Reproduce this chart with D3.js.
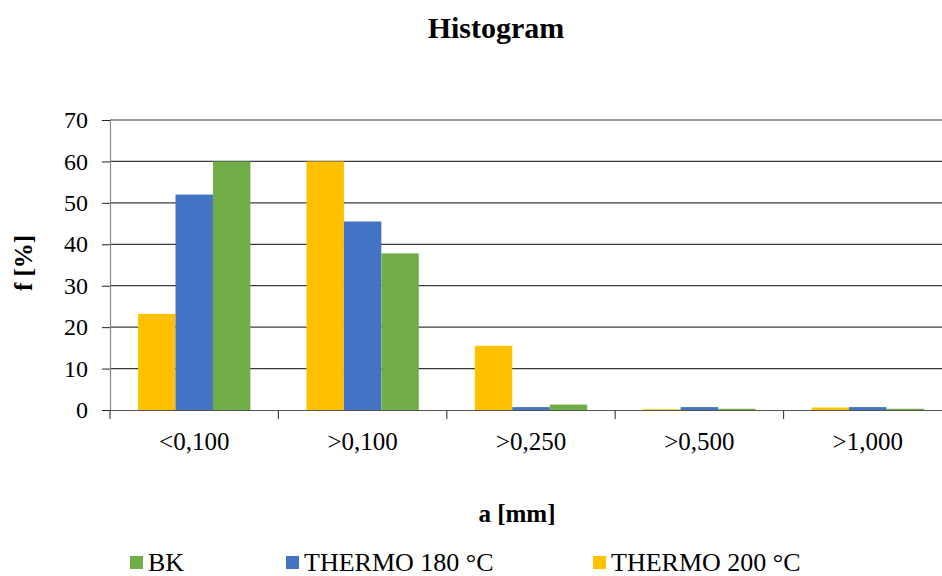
<!DOCTYPE html>
<html>
<head>
<meta charset="utf-8">
<script src="https://cdn.jsdelivr.net/npm/d3@7"></script>
<style>
  html, body { margin: 0; padding: 0; background: #fff; overflow: hidden; }
  svg text { font-family: "Liberation Serif", "Times New Roman", Tinos, "DejaVu Serif", serif !important; }
</style>
</head>
<body>
<svg id="chart" width="942" height="576"></svg>
<script>
// Size classes of the measured particles
const categories = ["<0,100", ">0,100", ">0,250", ">0,500", ">1,000"];

// Relative frequency f [%] per class
const thermo200 = [23.2, 60.0, 15.5, 0.2, 0.6];
const thermo180 = [52.0, 45.5, 0.7, 0.7, 0.7];
const bk        = [60.0, 37.8, 1.3, 0.3, 0.3];

const yTicks = [0, 10, 20, 30, 40, 50, 60, 70];

// Bars are drawn left-to-right in this order; legend lists them reversed
const series = [
  { name: "THERMO 200 °C", values: thermo200, color: "#FFC000" },
  { name: "THERMO 180 °C", values: thermo180, color: "#4472C4" },
  { name: "BK",            values: bk,        color: "#70AD47" }
];
const legendOrder = ["BK", "THERMO 180 °C", "THERMO 200 °C"];

const svg = d3.select("#chart");

const plot = { left: 110, right: 952, top: 120, bottom: 410 };

const x = d3.scaleBand()
  .domain(categories)
  .range([plot.left, plot.right])
  .paddingInner(0.333)
  .paddingOuter(0.1667);

const x1 = d3.scaleBand()
  .domain(series.map(s => s.name))
  .range([0, x.bandwidth()]);

const y = d3.scaleLinear().domain([0, 70]).range([plot.bottom, plot.top]);

// Horizontal grid lines
svg.append("g")
  .selectAll("line")
  .data(yTicks.filter(t => t > 0))
  .join("line")
  .attr("x1", plot.left).attr("x2", plot.right)
  .attr("y1", d => y(d)).attr("y2", d => y(d))
  .attr("stroke", "#3a3a3a").attr("stroke-width", 1.2);

// Bars
const groups = svg.append("g")
  .selectAll("g")
  .data(series)
  .join("g")
  .attr("fill", d => d.color);

groups.selectAll("rect")
  .data(s => s.values.map((v, i) => ({ name: s.name, cat: categories[i], v })))
  .join("rect")
  .attr("x", d => x(d.cat) + x1(d.name))
  .attr("width", x1.bandwidth())
  .attr("y", d => y(d.v))
  .attr("height", d => y(0) - y(d.v));

// Y axis
const yAxis = svg.append("g")
  .attr("transform", `translate(${plot.left},0)`)
  .call(d3.axisLeft(y).tickValues(yTicks).tickSize(8).tickPadding(14).tickFormat(d3.format("d")));
yAxis.select(".domain").attr("stroke", "#8a8a8a").attr("stroke-width", 1.2);
yAxis.selectAll(".tick line").attr("stroke", "#222");
yAxis.selectAll(".tick text")
  .attr("font-size", 24).attr("fill", "#000");

// X axis with ticks at category boundaries
const xAxis = svg.append("g")
  .attr("transform", `translate(0,${plot.bottom})`)
  .call(d3.axisBottom(x).tickSize(0).tickPadding(22));
xAxis.select(".domain").attr("stroke", "#555").attr("stroke-width", 1.2);
xAxis.selectAll(".tick text")
  .attr("font-size", 25).attr("fill", "#000");
xAxis.append("g")
  .selectAll("line")
  .data(d3.range(categories.length + 1))
  .join("line")
  .attr("x1", i => plot.left + i * x.step())
  .attr("x2", i => plot.left + i * x.step())
  .attr("y1", 0).attr("y2", 9)
  .attr("stroke", "#444").attr("stroke-width", 1.2);

// Title and axis titles
svg.append("text")
  .attr("x", 496).attr("y", 38)
  .attr("text-anchor", "middle")
  .attr("font-size", 30).attr("font-weight", "bold")
  .text("Histogram");

svg.append("text")
  .attr("x", 517).attr("y", 522)
  .attr("text-anchor", "middle")
  .attr("font-size", 25).attr("font-weight", "bold")
  .text("a [mm]");

svg.append("text")
  .attr("transform", "translate(32,263) rotate(-90)")
  .attr("text-anchor", "middle")
  .attr("font-size", 25).attr("font-weight", "bold")
  .text("f [%]");

// Legend
const legendX = [130, 286, 593];
const legend = svg.append("g")
  .selectAll("g")
  .data(legendOrder.map(n => series.find(s => s.name === n)))
  .join("g")
  .attr("transform", (d, i) => `translate(${legendX[i]},0)`);
legend.append("rect")
  .attr("x", 0).attr("y", 556).attr("width", 13).attr("height", 13)
  .attr("fill", d => d.color);
legend.append("text")
  .attr("x", 18).attr("y", 571)
  .attr("font-size", 26)
  .text(d => d.name);
</script>
</body>
</html>
